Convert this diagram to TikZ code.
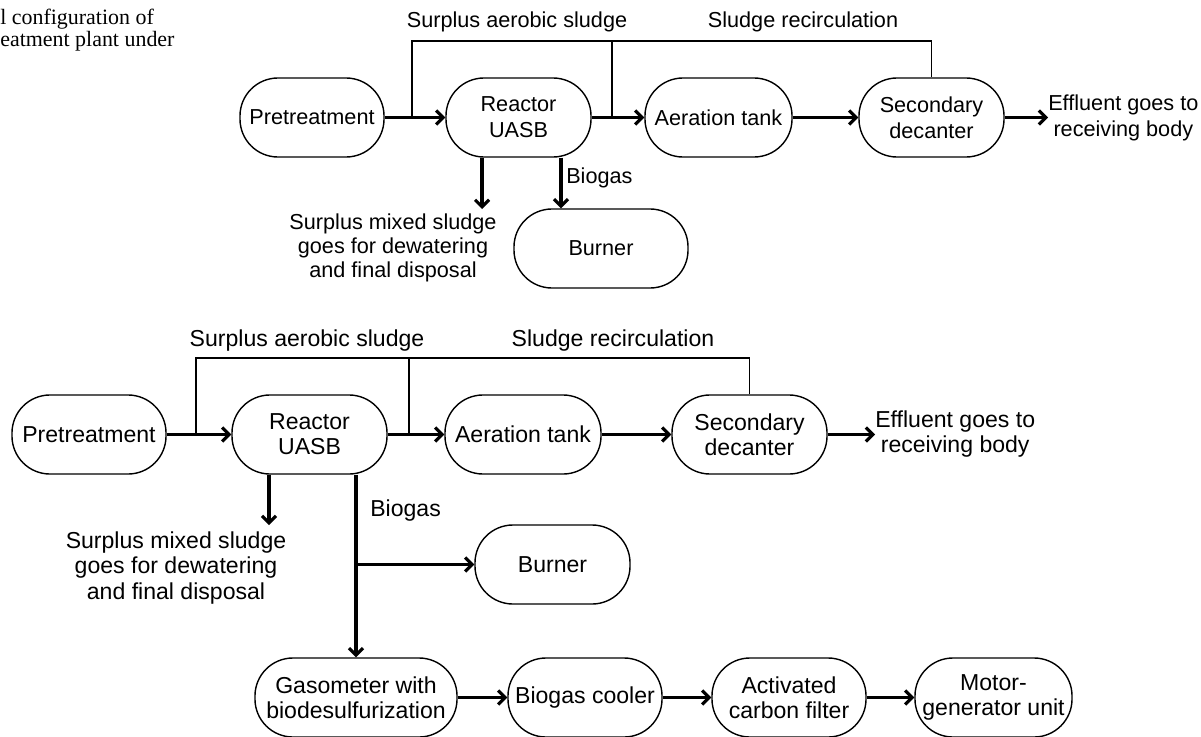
\documentclass[tikz,border=0pt]{standalone}
\usepackage{fontspec}
\setmainfont{Liberation Sans}
\newfontfamily\capfont{Liberation Serif}
\usetikzlibrary{arrows.meta}

\tikzset{
  unit/.style={draw, line width=1pt, rounded corners=0.95cm, minimum height=1.975cm, align=center, inner sep=0pt},
  flow/.style={line width=2.2pt, -{Straight Barb[length=5pt,width=10pt]}},
  back/.style={line width=1pt},
  topfont/.style={font=\fontsize{15.4}{18.5}\selectfont},
  botfont/.style={font=\fontsize{16.4}{17.8}\selectfont},
}

\begin{document}
\begin{tikzpicture}[x=0.025cm, y=-0.025cm]
\useasboundingbox (0,0) rectangle (1201,736);

%Caption remains
\node (cap) at (0,30) [anchor=west, align=left, inner sep=0pt, font=\capfont\fontsize{15.6}{16}\selectfont] {l configuration of\\eatment plant under};

%Upper scheme
%Boxes
\node (pre1) at (312,117.5) [unit, topfont, minimum width=3.6cm] {Pretreatment};
\node (uasb1) at (518.5,117.5) [unit, topfont, minimum width=3.625cm] {Reactor\\UASB};
\node (aer1) at (718.5,117.5) [unit, topfont, minimum width=3.675cm] {Aeration tank};
\node (dec1) at (931.5,117.5) [unit, topfont, minimum width=3.625cm] {Secondary\\decanter};
\node (burn1) at (601,248.5) [unit, topfont, minimum width=4.35cm] {Burner};

%Names
\node (eff1) at (1048,117.5) [anchor=west, align=center, inner sep=0pt, topfont] {Effluent goes to\\receiving body};
\node (mix1) at (393,248) [align=center, inner sep=0pt, font=\fontsize{15.4}{16.8}\selectfont] {Surplus mixed sludge\\goes for dewatering\\and final disposal};
\node (gas1) at (566,178) [anchor=west, inner sep=0pt, topfont] {Biogas};
\node (aero1) at (517,22) [inner sep=0pt, topfont] {Surplus aerobic sludge};
\node (recl1) at (803,22) [inner sep=0pt, topfont] {Sludge recirculation};

%Arrows
\coordinate (lp1) at (412,41);
\coordinate (lp2) at (612,41);
\coordinate (mx1) at (482,209);
\coordinate (bg1) at (561,0);
\draw [flow] (pre1) -- (uasb1);
\draw [flow] (uasb1) -- (aer1);
\draw [flow] (aer1) -- (dec1);
\draw [flow] (dec1) -- (eff1);
\draw [flow] (uasb1.south -| mx1) -- (mx1);
\draw [flow] (uasb1.south -| bg1) -- (burn1.north -| bg1);
%Top
\draw [back] (pre1.east -| lp1) -- (lp1) -| (dec1.north);
\draw [back] (uasb1.east -| lp2) -- (lp2);

%Lower scheme
%Boxes
\node (pre2) at (89,434.5) [unit, botfont, minimum width=3.85cm] {Pretreatment};
\node (uasb2) at (309.5,434.5) [unit, botfont, minimum width=3.875cm] {Reactor\\UASB};
\node (aer2) at (523,434.5) [unit, botfont, minimum width=3.9cm] {Aeration tank};
\node (dec2) at (749.5,434.5) [unit, botfont, minimum width=3.875cm] {Secondary\\decanter};
\node (burn2) at (552.5,564.5) [unit, botfont, minimum width=3.875cm] {Burner};
\node (gaso) at (356,697.5) [unit, botfont, minimum width=5.05cm] {Gasometer with\\biodesulfurization};
\node (cool) at (585,697.5) [unit, botfont, minimum width=3.85cm] {Biogas cooler};
\node (carb) at (789,697.5) [unit, botfont, minimum width=3.85cm] {Activated\\carbon filter};
\node (motor) at (993.5,697.5) [unit, botfont, minimum width=3.925cm] {Motor-\\generator unit};

%Names
\node (eff2) at (875,434.5) [anchor=west, align=center, inner sep=0pt, botfont] {Effluent goes to\\receiving body};
\node (mix2) at (176,568) [align=center, inner sep=0pt, botfont] {Surplus mixed sludge\\goes for dewatering\\and final disposal};
\node (gas2) at (370,511) [anchor=west, inner sep=0pt, botfont] {Biogas};
\node (aero2) at (307,341) [inner sep=0pt, botfont] {Surplus aerobic sludge};
\node (recl2) at (613,341) [inner sep=0pt, botfont] {Sludge recirculation};

%Arrows
\coordinate (lp3) at (196,358);
\coordinate (lp4) at (409,358);
\coordinate (mx2) at (269,525);
\draw [flow] (pre2) -- (uasb2);
\draw [flow] (uasb2) -- (aer2);
\draw [flow] (aer2) -- (dec2);
\draw [flow] (dec2) -- (eff2);
\draw [flow] (uasb2.south -| mx2) -- (mx2);
\draw [flow] (uasb2.south -| gaso) -- (gaso);
\draw [flow] (burn2 -| gaso) -- (burn2);
\draw [flow] (gaso) -- (cool);
\draw [flow] (cool) -- (carb);
\draw [flow] (carb) -- (motor);
%Top
\draw [back] (pre2.east -| lp3) -- (lp3) -| (dec2.north);
\draw [back] (uasb2.east -| lp4) -- (lp4);

\end{tikzpicture}
\end{document}
